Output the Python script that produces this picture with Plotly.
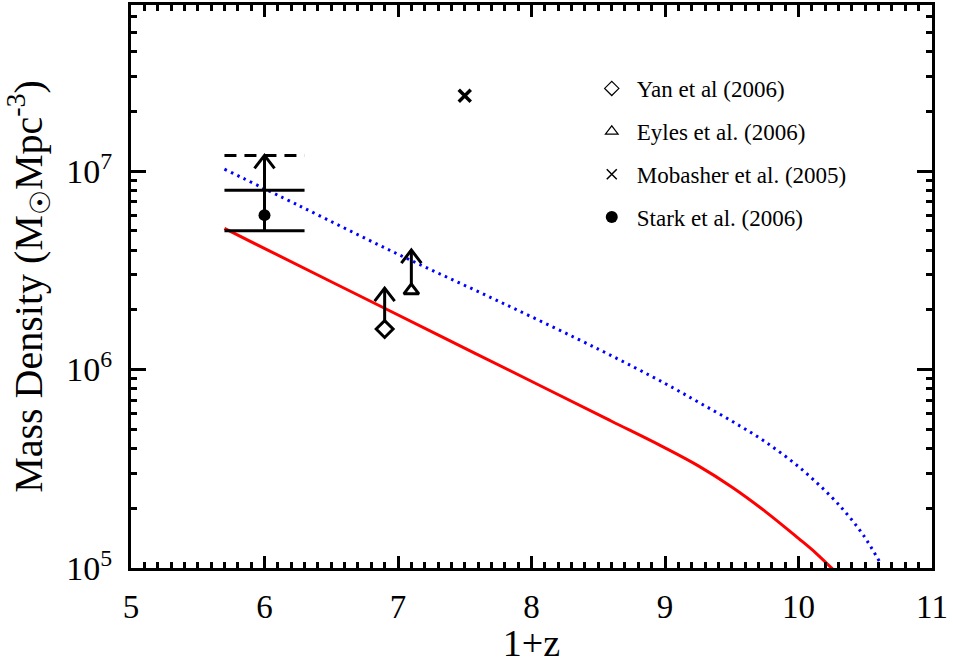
import plotly.graph_objects as go

# ---------------- data ----------------
# model curves (1+z, mass density in Msun/Mpc^3)
red_x = [5.70, 6.50, 7.30, 8.10, 8.60, 9.00, 9.25, 9.50, 9.75, 10.00, 10.13, 10.257]
red_y = [5.14e6, 2.77e6, 1.496e6, 8.07e5, 5.49e5, 4.03e5, 3.27e5, 2.56e5, 1.93e5, 1.41e5, 1.19e5, 9.86e4]

blue_x = [5.70, 6.262, 7.011, 7.76, 8.509, 9.00, 9.25, 9.50, 9.75, 10.015, 10.247, 10.372, 10.487, 10.614]
blue_y = [1.023e7, 6.68e6, 3.78e6, 2.20e6, 1.259e6, 8.51e5, 6.85e5, 5.50e5, 4.33e5, 3.18e5, 2.28e5, 1.84e5, 1.46e5, 1.057e5]

# observations
stark_x, stark_val, stark_lo, stark_hi, stark_limit = 6.0, 6.0e6, 5.0e6, 8.0e6, 1.2e7
yan_x, yan_val, yan_limit = 6.9, 1.6e6, 2.57e6
eyles_x, eyles_val, eyles_limit = 7.1, 2.5e6, 4.0e6
mob_x, mob_val = 7.5, 2.4e7

legend_names = ["Yan et al (2006)", "Eyles et al. (2006)", "Mobasher et al. (2005)", "Stark et al. (2006)"]

x_ticks = [5, 6, 7, 8, 9, 10, 11]
y_ticks = [1e5, 1e6, 1e7]
y_ticktext = ["10<sup>5</sup>", "10<sup>6</sup>", "10<sup>7</sup>"]

# ---------------- style ----------------
FONT = "Liberation Serif, DejaVu Serif, serif"
LW = 3
BAR_HALF = 0.3      # half width of Stark bars in x units
HEAD_DX = 0.075     # arrow head half width (x units)
HEAD_F = 0.86       # arrow head drop (multiplicative in y)

fig = go.Figure()

fig.add_trace(go.Scatter(x=red_x, y=red_y, mode="lines",
                         line=dict(color="#ff0000", width=LW, shape="spline", smoothing=1.0),
                         showlegend=False, hoverinfo="skip"))
fig.add_trace(go.Scatter(x=blue_x, y=blue_y, mode="lines",
                         line=dict(color="#0000ff", width=3, dash="2.5px,4.5px", shape="spline", smoothing=1.0),
                         showlegend=False, hoverinfo="skip"))


def arrow(x, y0, y1):
    xs = [x, x, None, x - HEAD_DX, x, x + HEAD_DX]
    ys = [y0, y1, None, y1 * HEAD_F, y1, y1 * HEAD_F]
    fig.add_trace(go.Scatter(x=xs, y=ys, mode="lines", line=dict(color="black", width=LW),
                             showlegend=False, hoverinfo="skip"))


# Stark bars
for v in (stark_lo, stark_hi):
    fig.add_trace(go.Scatter(x=[stark_x - BAR_HALF, stark_x + BAR_HALF], y=[v, v], mode="lines",
                             line=dict(color="black", width=LW), showlegend=False, hoverinfo="skip"))
fig.add_trace(go.Scatter(x=[stark_x - BAR_HALF, stark_x + BAR_HALF], y=[stark_limit, stark_limit], mode="lines",
                         line=dict(color="black", width=LW, dash="12px,8px"), showlegend=False, hoverinfo="skip"))
arrow(stark_x, stark_lo, stark_limit)
arrow(yan_x, yan_val, yan_limit)
arrow(eyles_x, eyles_val, eyles_limit)

# data markers
fig.add_trace(go.Scatter(x=[stark_x], y=[stark_val], mode="markers",
                         marker=dict(symbol="circle", size=12, color="black"), showlegend=False))
fig.add_trace(go.Scatter(x=[yan_x], y=[yan_val], mode="markers",
                         marker=dict(symbol="diamond", size=13, color="white", line=dict(color="black", width=3)),
                         showlegend=False))
fig.add_trace(go.Scatter(x=[eyles_x], y=[eyles_val], mode="markers",
                         marker=dict(symbol="triangle-up", size=13, color="white", line=dict(color="black", width=3)),
                         showlegend=False))
fig.add_trace(go.Scatter(x=[mob_x], y=[mob_val], mode="markers",
                         marker=dict(symbol="x-thin", size=12, color="black", line=dict(color="black", width=3.5)),
                         showlegend=False))

# legend-only entries
leg_markers = [
    dict(symbol="diamond-open", size=11, color="black", line=dict(color="black", width=1.2)),
    dict(symbol="triangle-up-open", size=11, color="black", line=dict(color="black", width=1.2)),
    dict(symbol="x-thin-open", size=10, color="black", line=dict(color="black", width=1.5)),
    dict(symbol="circle", size=12, color="black"),
]
for i, (name, mk) in enumerate(zip(legend_names, leg_markers)):
    fig.add_trace(go.Scatter(x=[None], y=[None], mode="markers", name=name, marker=mk,
                             legendgroup="g%d" % i, showlegend=True))

axis_common = dict(showgrid=False, zeroline=False, showline=True, linecolor="black", linewidth=LW,
                   mirror="allticks", ticks="inside", tickcolor="black", tickwidth=LW)

fig.update_layout(
    width=953, height=664,
    margin=dict(l=131, r=21, t=2, b=96),
    paper_bgcolor="white", plot_bgcolor="white",
    font=dict(family=FONT, color="black"),
    xaxis=dict(range=[5, 11], tickvals=x_ticks, ticklen=12, tickfont=dict(size=33),
               ticklabelstandoff=7,
               title=dict(text="1+z", font=dict(size=38), standoff=7),
               minor=dict(ticks="inside", dtick=0.1, ticklen=6, tickwidth=2.5, tickcolor="black"),
               **axis_common),
    yaxis=dict(type="log", range=[5, 7.837], tickvals=y_ticks, ticktext=y_ticktext, ticklen=15,
               tickfont=dict(size=34), ticklabelstandoff=9,
               title=dict(text="Mass Density (M<sub>\u2609</sub>Mpc<sup>-3</sup>)", font=dict(size=40), standoff=12),
               minor=dict(ticks="inside", ticklen=6, tickwidth=2.5, tickcolor="black",
                          tickvals=[k * 10 ** e for e in (5, 6, 7) for k in range(2, 10)]),
               **axis_common),
    showlegend=True,
    legend=dict(x=0.569, y=0.89, xanchor="left", yanchor="top", bgcolor="rgba(0,0,0,0)",
                font=dict(size=23, family=FONT), tracegroupgap=10, itemwidth=40),
)

fig.write_html("out.html", config={"displayModeBar": False},
               post_script="document.body.style.margin='0';document.body.style.overflow='hidden';")
